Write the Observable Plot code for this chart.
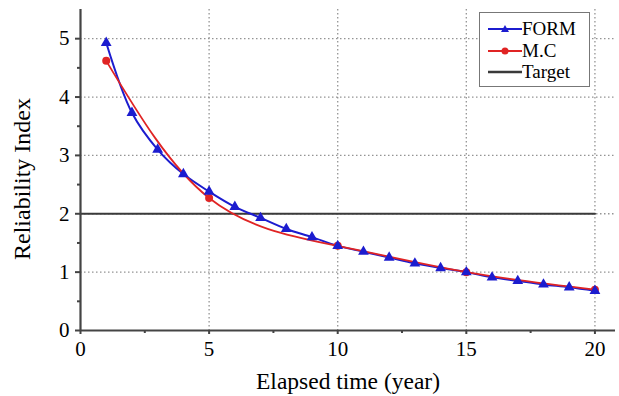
<!DOCTYPE html>
<html>
<head>
<meta charset="utf-8">
<script src="https://cdn.jsdelivr.net/npm/d3@7"></script>
<script src="https://cdn.jsdelivr.net/npm/@observablehq/plot@0.6"></script>
<style>
  html, body { margin: 0; padding: 0; background: #fff; }
  #wrap { position: relative; width: 619px; height: 396px; }
  #wrap, #wrap * , #wrap svg text { font-family: "Liberation Serif", "Times New Roman", Times, "DejaVu Serif", serif !important; }
  #legend { position: absolute; left: 479px; top: 12px; width: 111px; height: 75px; border: 1px solid #777; background: #fff; box-sizing: border-box; }
  #legend .row { position: absolute; left: 8px; height: 20px; display: flex; align-items: center; font-size: 19px; color: #000; line-height: 20px; }
  #legend span { line-height: 20px; }
</style>
</head>
<body>
<div id="wrap"></div>
<script>
// Data
const years = [1,2,3,4,5,6,7,8,9,10,11,12,13,14,15,16,17,18,19,20];
const formValues = [4.93,3.73,3.10,2.68,2.38,2.12,1.93,1.74,1.60,1.45,1.35,1.25,1.15,1.07,1.00,0.91,0.85,0.79,0.74,0.68];
const mcYears = [1,5,10,15,20];
const mcValues = [4.62,2.27,1.45,1.00,0.70];
const targetValue = 2;
const targetRange = [0, 20];
const xTicks = [0,5,10,15,20];
const xMinorTicks = [2.5,7.5,12.5,17.5];
const yTicks = [0,1,2,3,4,5];
const yMinorTicks = [0.5,1.5,2.5,3.5,4.5];
const seriesNames = ["FORM","M.C","Target"];

const form = years.map((x,i) => ({x, y: formValues[i]}));
const mc = mcYears.map((x,i) => ({x, y: mcValues[i]}));
const target = targetRange.map(x => ({x, y: targetValue}));

const blue = "#1c1ccf";
const red = "#e02424";
const dark = "#3a3a3a";

const chart = Plot.plot({
  width: 619,
  height: 396,
  marginLeft: 80,
  marginRight: 4,
  marginTop: 9,
  marginBottom: 66,
  style: {background: "#fff", color: "#000"},
  x: {domain: [0, 20.8], label: null},
  y: {domain: [0, 5.5], label: null},
  marks: [
    Plot.gridX(xTicks.slice(1), {stroke: "#888", strokeOpacity: 0.9, strokeDasharray: "1.5,2.5", strokeWidth: 1.3}),
    Plot.gridY(yTicks.slice(1), {stroke: "#888", strokeOpacity: 0.9, strokeDasharray: "1.5,2.5", strokeWidth: 1.3}),
    Plot.line(target, {x: "x", y: "y", stroke: dark, strokeWidth: 2.2}),
    Plot.line(form, {x: "x", y: "y", stroke: blue, strokeWidth: 2, curve: "catmull-rom"}),
    Plot.line(mc, {x: "x", y: "y", stroke: red, strokeWidth: 1.8, curve: "natural"}),
    Plot.dot(mc, {x: "x", y: "y", fill: red, r: 4, symbol: "circle"}),
    Plot.dot(form, {x: "x", y: "y", fill: blue, r: 4, symbol: "triangle"}),
    Plot.ruleY([0], {stroke: "#444", strokeWidth: 2.2}),
    Plot.ruleX([0], {stroke: "#444", strokeWidth: 2.2}),
    Plot.axisX({ticks: xTicks, tickSize: 4, tickPadding: 7, fontSize: 21, stroke: "#444", strokeWidth: 2, tickFormat: d3.format("d"), label: null}),
    Plot.axisX({ticks: xMinorTicks, tickSize: 3, stroke: "#444", strokeWidth: 2, tickFormat: () => "", label: null}),
    Plot.axisY({ticks: yTicks, tickSize: 5, tickPadding: 6, fontSize: 21, stroke: "#444", strokeWidth: 2, tickFormat: d3.format("d"), label: null}),
    Plot.axisY({ticks: yMinorTicks, tickSize: 3, stroke: "#444", strokeWidth: 2, tickFormat: () => "", label: null}),
    Plot.text(["Elapsed time (year)"], {frameAnchor: "bottom", dy: 51, lineAnchor: "middle", textAnchor: "middle", fontSize: 23.5, fill: "#000"}),
    Plot.text(["Reliability Index"], {frameAnchor: "left", dx: -58, dy: 9, rotate: -90, textAnchor: "middle", lineAnchor: "middle", fontSize: 24, fill: "#000"})
  ]
});

const wrap = document.getElementById("wrap");
wrap.appendChild(chart);

// Legend overlay
const legend = document.createElement("div");
legend.id = "legend";
const sw = {
  "FORM": `<svg width="34" height="10"><line x1="0" y1="5" x2="34" y2="5" stroke="${blue}" stroke-width="2"/><path d="M17,1 L21,8 L13,8 Z" fill="${blue}"/></svg>`,
  "M.C": `<svg width="34" height="10"><line x1="0" y1="5" x2="34" y2="5" stroke="${red}" stroke-width="2"/><circle cx="17" cy="5" r="3.5" fill="${red}"/></svg>`,
  "Target": `<svg width="34" height="10"><line x1="0" y1="5" x2="34" y2="5" stroke="${dark}" stroke-width="2.5"/></svg>`
};
seriesNames.forEach((name, i) => {
  const row = document.createElement("div");
  row.className = "row";
  row.style.top = (6 + i * 21.5) + "px";
  row.innerHTML = sw[name] + `<span>${name}</span>`;
  legend.appendChild(row);
});
wrap.appendChild(legend);
</script>
</body>
</html>
